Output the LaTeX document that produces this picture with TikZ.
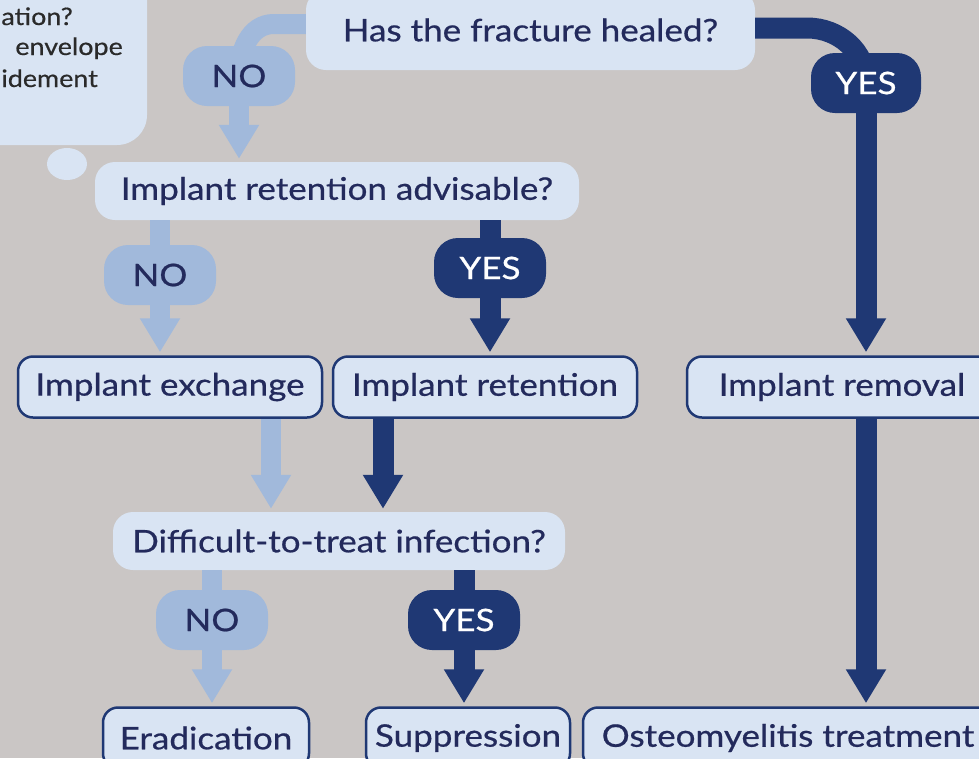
\documentclass[tikz,border=0pt]{standalone}
\usepackage{fontspec}
\setmainfont{Lato}
\newfontfamily\chartfont[FakeStretch=1.13,FakeBold=0.6]{Lato}
\newfontfamily\notefont[FakeStretch=1.12,FakeBold=0.5]{Lato}
\usetikzlibrary{arrows.meta}
\definecolor{bg}{HTML}{CAC6C5}
\definecolor{boxfill}{HTML}{D9E4F3}
\definecolor{lightblue}{HTML}{A1B9DB}
\definecolor{navy}{HTML}{1F3874}
\definecolor{ink}{HTML}{232A5C}
\definecolor{note}{HTML}{2A2A2A}
\begin{document}
\begin{tikzpicture}[x=1pt,y=-1pt,
  label font/.style={font=\chartfont\fontsize{31}{36}\selectfont},
  notetext/.style={anchor=base east, text=note, font=\notefont\fontsize{24}{28}\selectfont, inner sep=0pt},
  question/.style={label font, fill=boxfill, text=ink, rounded corners=20pt, inner sep=0pt, minimum height=58pt},
  outcome/.style={label font, fill=boxfill, draw=navy, line width=2.5pt, text=ink, rounded corners=15pt, inner sep=0pt, minimum height=61pt},
  pill/.style={label font, rounded corners=24pt, inner sep=0pt, minimum width=112pt, minimum height=60pt},
  nopill/.style={pill, fill=lightblue, text=ink},
  yespill/.style={pill, fill=navy, text=white},
  noline/.style={draw=lightblue, line width=20pt},
  yesline/.style={draw=navy, line width=21pt},
  tip/.style={-{Triangle[width=38pt,length=34pt]}, shorten >=3pt}]
\useasboundingbox (0,0) rectangle (979,758);
\clip (0,0) rectangle (979,758);
\fill[bg] (0,0) rectangle (979,758);

% note panel at the upper left, with its small bubble
\fill[boxfill, rounded corners=30pt] (-60,-60) rectangle (147,145);
\node[notetext] (n1) at (73,25) {ation?};
\node[notetext] (n2) at (123,55) {envelope};
\node[notetext] (n3) at (98,87) {idement};
\fill[boxfill] (67,164) ellipse [x radius=20, y radius=16];

% questions
\node[question, minimum width=449pt, minimum height=80pt] (q1) at (530.5,30) {Has the fracture healed?};
\node[question, minimum width=484pt] (q2) at (337,191) {Implant retention advisable?};
\node[question, minimum width=452pt] (q3) at (339,541) {Difficult-to-treat infection?};

% outcomes
\node[outcome, minimum width=304pt] (exch) at (170,387) {Implant exchange};
\node[outcome, minimum width=304pt] (ret) at (485,387) {Implant retention};
\node[outcome, minimum width=310pt] (rem) at (842,387) {Implant removal};
\node[outcome, minimum width=206pt] (erad) at (206,738) {Eradication};
\node[outcome, minimum width=204pt] (supp) at (468,738) {Suppression};
\node[outcome, minimum width=410pt] (osteo) at (788,738) {Osteomyelitis treatment};

% answer positions
\coordinate (no1) at (239,76);
\coordinate (yes1) at (866,83);
\coordinate (no2) at (160,275);
\coordinate (yes2) at (490,268);
\coordinate (no3) at (212,620);
\coordinate (yes3) at (464,620);
\coordinate (xa) at (271,0);
\coordinate (xb) at (383,0);

% connectors
\draw[noline] ([yshift=6pt]q1.west) -- ++(-32,0) to[out=180,in=90] (no1);
\draw[noline, tip] (no1) -- (no1 |- q2.north);
\draw[yesline] ([yshift=2pt]q1.east) -- ++(52,0) to[out=0,in=90] (yes1);
\draw[yesline, tip] (yes1) -- (yes1 |- rem.north);
\draw[noline, tip] (q2.south -| no2) -- (no2 |- exch.north);
\draw[yesline, tip] (q2.south -| yes2) -- (yes2 |- ret.north);
\draw[noline, tip] (exch.south -| xa) -- (xa |- q3.north);
\draw[yesline, tip] (ret.south -| xb) -- (xb |- q3.north);
\draw[noline, tip] (q3.south -| no3) -- (no3 |- erad.north);
\draw[yesline, tip] (q3.south -| yes3) -- (yes3 |- supp.north);
\draw[yesline, tip] (rem.south -| yes1) -- (yes1 |- osteo.north);

% answers
\node[nopill] (a1) at (no1) {NO};
\node[yespill, minimum width=110pt] (b1) at (yes1) {YES};
\node[nopill] (a2) at (no2) {NO};
\node[yespill] (b2) at (yes2) {YES};
\node[nopill] (a3) at (no3) {NO};
\node[yespill] (b3) at (yes3) {YES};
\end{tikzpicture}
\end{document}
